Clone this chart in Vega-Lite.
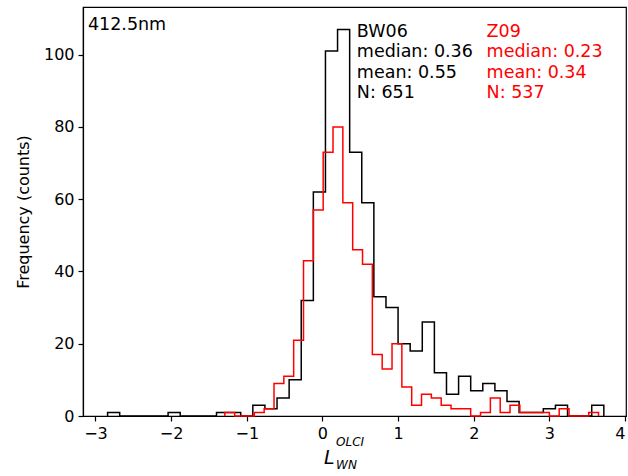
{
  "$schema": "https://vega.github.io/schema/vega-lite/v6.json",
  "width": 543,
  "height": 409,
  "autosize": {"type": "none"},
  "padding": {"left": 83, "top": 7, "right": 2, "bottom": 60},
  "background": "white",
  "config": {
    "view": {"stroke": "black", "strokeWidth": 1.2},
    "font": "DejaVu Sans",
    "axis": {
      "labelFont": "DejaVu Sans", "labelFontSize": 16, "labelColor": "black",
      "titleFont": "DejaVu Sans", "titleFontSize": 16, "titleColor": "black", "titleFontWeight": "normal",
      "tickColor": "black", "domainColor": "black", "tickSize": 5, "tickWidth": 1.2, "domainWidth": 1.2,
      "labelPadding": 4, "grid": false, "zindex": 1
    }
  },
  "datasets": {
    "bw": [
      {"x": -2.84, "n": 0},
      {"x": -2.84, "n": 1}, {"x": -2.68, "n": 0}, {"x": -2.52, "n": 0}, {"x": -2.36, "n": 0},
      {"x": -2.20, "n": 0}, {"x": -2.04, "n": 1}, {"x": -1.88, "n": 0}, {"x": -1.72, "n": 0},
      {"x": -1.56, "n": 0}, {"x": -1.40, "n": 1}, {"x": -1.24, "n": 1}, {"x": -1.08, "n": 0},
      {"x": -0.92, "n": 3}, {"x": -0.76, "n": 2}, {"x": -0.60, "n": 5}, {"x": -0.44, "n": 10},
      {"x": -0.28, "n": 32}, {"x": -0.12, "n": 62}, {"x": 0.04, "n": 101}, {"x": 0.20, "n": 107},
      {"x": 0.36, "n": 73}, {"x": 0.52, "n": 59}, {"x": 0.68, "n": 33}, {"x": 0.84, "n": 30},
      {"x": 1.00, "n": 20}, {"x": 1.16, "n": 18}, {"x": 1.32, "n": 26}, {"x": 1.48, "n": 12},
      {"x": 1.64, "n": 6}, {"x": 1.80, "n": 11}, {"x": 1.96, "n": 7}, {"x": 2.12, "n": 9},
      {"x": 2.28, "n": 7}, {"x": 2.44, "n": 4}, {"x": 2.60, "n": 1}, {"x": 2.76, "n": 1},
      {"x": 2.92, "n": 2}, {"x": 3.08, "n": 3}, {"x": 3.24, "n": 0}, {"x": 3.40, "n": 0},
      {"x": 3.56, "n": 3},
      {"x": 3.72, "n": 0}
    ],
    "z": [
      {"x": -1.29, "n": 0},
      {"x": -1.29, "n": 1}, {"x": -1.16, "n": 0}, {"x": -1.03, "n": 0}, {"x": -0.90, "n": 1},
      {"x": -0.77, "n": 2}, {"x": -0.64, "n": 9}, {"x": -0.51, "n": 11}, {"x": -0.38, "n": 21},
      {"x": -0.25, "n": 43}, {"x": -0.12, "n": 57}, {"x": 0.01, "n": 73}, {"x": 0.14, "n": 80},
      {"x": 0.27, "n": 59}, {"x": 0.40, "n": 46}, {"x": 0.53, "n": 42}, {"x": 0.66, "n": 17},
      {"x": 0.79, "n": 13}, {"x": 0.92, "n": 20}, {"x": 1.05, "n": 8}, {"x": 1.18, "n": 3},
      {"x": 1.31, "n": 6}, {"x": 1.44, "n": 5}, {"x": 1.57, "n": 3}, {"x": 1.70, "n": 2},
      {"x": 1.83, "n": 2}, {"x": 1.96, "n": 0}, {"x": 2.09, "n": 1}, {"x": 2.22, "n": 5},
      {"x": 2.35, "n": 1}, {"x": 2.48, "n": 3}, {"x": 2.61, "n": 1}, {"x": 2.74, "n": 1},
      {"x": 2.87, "n": 1}, {"x": 3.00, "n": 0}, {"x": 3.13, "n": 2}, {"x": 3.26, "n": 0},
      {"x": 3.39, "n": 0}, {"x": 3.52, "n": 1},
      {"x": 3.65, "n": 0}
    ],
    "one": [{}]
  },
  "layer": [
    {
      "data": {"name": "bw"},
      "mark": {"type": "line", "interpolate": "step-after", "color": "black", "strokeWidth": 1.5},
      "encoding": {
        "x": {"field": "x", "type": "quantitative",
              "scale": {"domain": [-3.165, 4.013], "nice": false, "zero": false},
              "axis": {"values": [-3, -2, -1, 0, 1, 2, 3, 4], "format": "d", "title": null}},
        "y": {"field": "n", "type": "quantitative",
              "scale": {"domain": [0, 113.2], "nice": false},
              "axis": {"values": [0, 20, 40, 60, 80, 100], "title": "Frequency (counts)", "titlePadding": 12}}
      }
    },
    {
      "data": {"name": "z"},
      "mark": {"type": "line", "interpolate": "step-after", "color": "red", "strokeWidth": 1.5},
      "encoding": {
        "x": {"field": "x", "type": "quantitative"},
        "y": {"field": "n", "type": "quantitative"}
      }
    },
    {
      "data": {"name": "one"},
      "mark": {"type": "text", "align": "left", "baseline": "alphabetic", "fontSize": 17.5, "color": "black", "text": "412.5nm"},
      "encoding": {"x": {"datum": -3.10}, "y": {"datum": 106.9}}
    },
    {
      "data": {"name": "one"},
      "mark": {"type": "text", "align": "left", "baseline": "alphabetic", "fontSize": 17.5, "color": "black", "lineHeight": 20.5,
               "text": ["BW06", "median: 0.36", "mean: 0.55", "N: 651"]},
      "encoding": {"x": {"datum": 0.455}, "y": {"datum": 104.9}}
    },
    {
      "data": {"name": "one"},
      "mark": {"type": "text", "align": "left", "baseline": "alphabetic", "fontSize": 17.5, "color": "red", "lineHeight": 20.5,
               "text": ["Z09", "median: 0.23", "mean: 0.34", "N: 537"]},
      "encoding": {"x": {"datum": 2.17}, "y": {"datum": 104.9}}
    },
    {
      "data": {"name": "one"},
      "mark": {"type": "text", "align": "left", "baseline": "alphabetic", "fontSize": 19, "fontStyle": "italic", "color": "black", "text": "L"},
      "encoding": {"x": {"datum": 0.02}, "y": {"datum": -13.4}}
    },
    {
      "data": {"name": "one"},
      "mark": {"type": "text", "align": "left", "baseline": "alphabetic", "fontSize": 12, "fontStyle": "italic", "color": "black", "text": "OLCI"},
      "encoding": {"x": {"datum": 0.18}, "y": {"datum": -8.4}}
    },
    {
      "data": {"name": "one"},
      "mark": {"type": "text", "align": "left", "baseline": "alphabetic", "fontSize": 12, "fontStyle": "italic", "color": "black", "text": "WN"},
      "encoding": {"x": {"datum": 0.18}, "y": {"datum": -14.8}}
    }
  ]
}
